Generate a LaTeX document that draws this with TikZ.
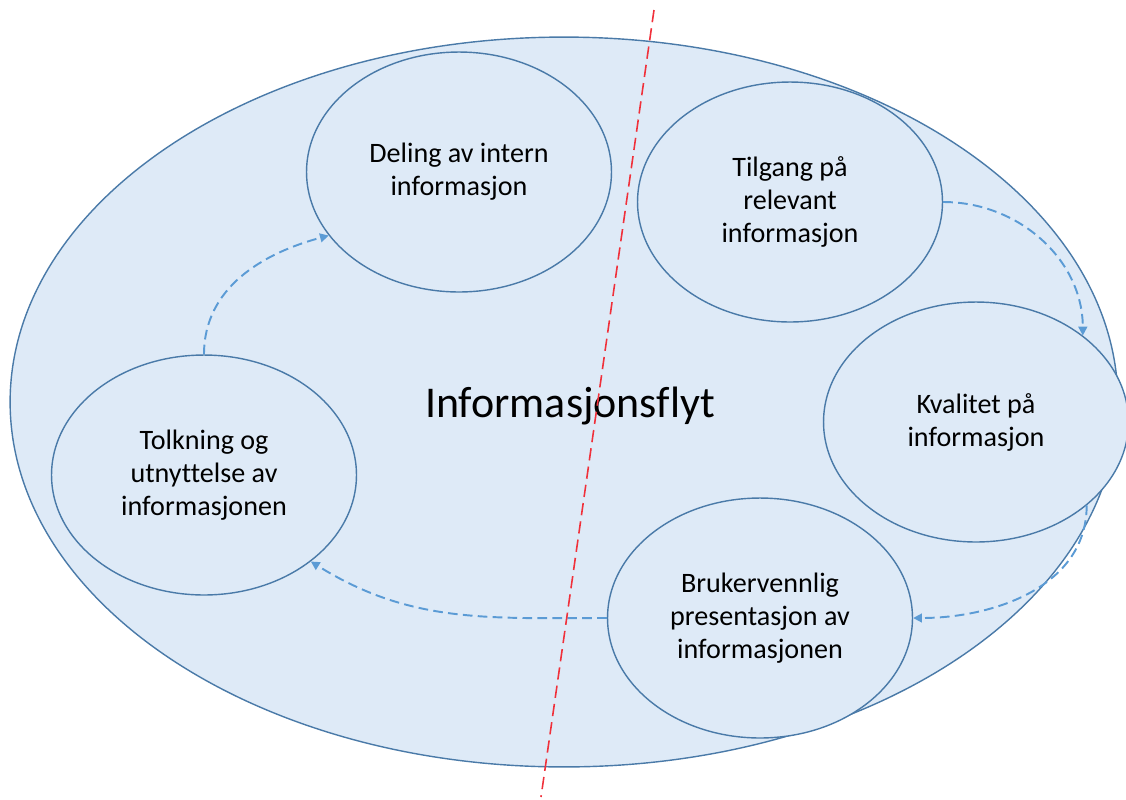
\documentclass[tikz,border=0pt]{standalone}
\usepackage{fontspec}
\setmainfont{Carlito}[Ligatures=NoCommon]
\usetikzlibrary{shapes.geometric, arrows.meta}

\definecolor{fillblue}{HTML}{DEEAF7}
\definecolor{edgeblue}{HTML}{4A7AA8}
\definecolor{flowblue}{HTML}{5B9BD5}
\definecolor{cutred}{HTML}{F0303A}

\begin{document}
\begin{tikzpicture}[x=0.02cm, y=-0.02cm,
    blob/.style={ellipse, draw=edgeblue, fill=fillblue, line width=0.8pt, minimum width=6.1cm, minimum height=4.8cm, align=center, font=\fontsize{16}{18.8}\selectfont},
    flow/.style={draw=flowblue, line width=1.1pt, dash pattern=on 5.5pt off 3pt, -{Triangle[length=5pt, width=5pt]}}]
    \useasboundingbox (0,0) rectangle (1126,799);

    % outer field
    \node[ellipse, draw=edgeblue, fill=fillblue, line width=0.8pt, minimum width=22.16cm, minimum height=14.6cm] (flyt) at (564,402) {};

    \node[blob] (deling) at (459,172) {Deling av intern\\informasjon};
    \node[blob] (tilgang) at (790,202) {Tilgang på\\relevant\\informasjon};
    \node[blob] (kval) at (976,422) {Kvalitet på\\informasjon};
    \node[blob] (bruk) at (760,618) {Brukervennlig\\presentasjon av\\informasjonen};
    \node[blob] (tolk) at (204,475) {Tolkning og\\utnyttelse av\\informasjonen};

    \node[font=\fontsize{25}{30}\selectfont] (tittel) at (570,406) {Informasjonsflyt};

    % cycle
    \draw[flow] (tolk.north) to[out=90, in=195] (deling.206);
    \draw[flow] (tilgang.east) to[out=0, in=90] (kval.39);
    \draw[flow] (kval.-37) to[out=-90, in=0] (bruk.east);
    \draw[flow] (bruk.west) to[out=180, in=-32] (tolk.-39);

    % dividing line
    \coordinate (cuttop) at (654,10);
    \coordinate (cutbot) at (541,797);
    \draw[cutred, line width=0.9pt, dash pattern=on 7pt off 3.5pt] (cuttop)--(cutbot);
\end{tikzpicture}
\end{document}
